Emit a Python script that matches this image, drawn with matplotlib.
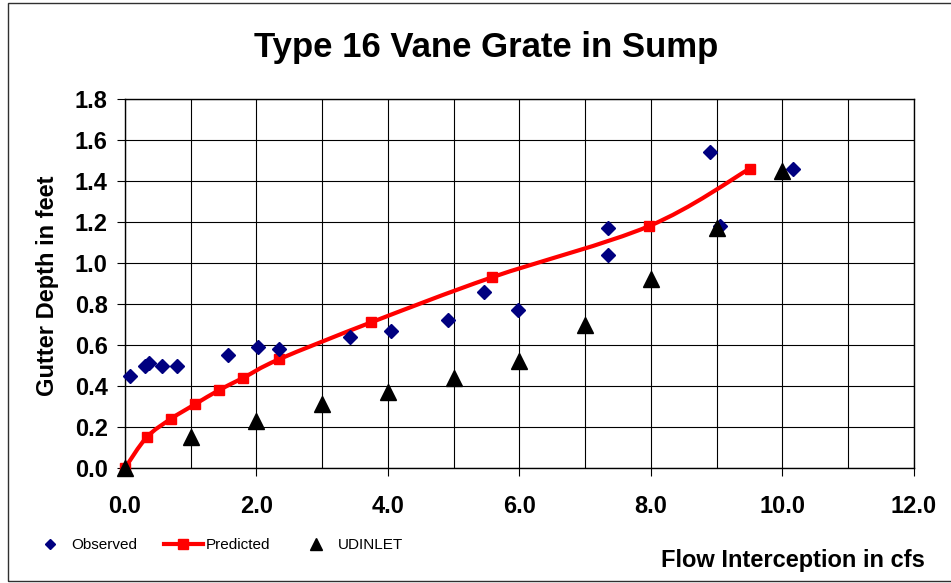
import matplotlib.pyplot as plt
from matplotlib.lines import Line2D
from matplotlib.path import Path
from matplotlib.patches import PathPatch, Rectangle

plt.rcParams['font.family'] = ['Liberation Sans', 'DejaVu Sans']

# observed data (diamonds)
obs_x = [0.07, 0.31, 0.37, 0.56, 0.79, 1.56, 2.03, 2.34, 3.42, 4.04, 4.92,
         5.46, 5.98, 7.34, 7.34, 8.89, 9.05, 10.16]
obs_y = [0.45, 0.50, 0.51, 0.50, 0.50, 0.55, 0.59, 0.58, 0.64, 0.67, 0.72,
         0.86, 0.77, 1.17, 1.04, 1.54, 1.18, 1.46]

# predicted curve
pred_x = [0.0, 0.33, 0.70, 1.06, 1.43, 1.80, 2.34, 3.74, 5.58, 7.97, 9.50]
pred_y = [0.0, 0.15, 0.24, 0.31, 0.38, 0.44, 0.53, 0.71, 0.93, 1.18, 1.46]

# UDINLET
ud_x = [0, 1, 2, 3, 4, 5, 6, 7, 8, 9, 10]
ud_y = [0.0, 0.15, 0.23, 0.31, 0.37, 0.44, 0.52, 0.70, 0.92, 1.17, 1.45]

x_ticks = [0, 2, 4, 6, 8, 10, 12]
y_ticks = [0.0, 0.2, 0.4, 0.6, 0.8, 1.0, 1.2, 1.4, 1.6, 1.8]


def smooth_path(xs, ys):
    # catmull-rom style bezier, like excel's smoothed line
    pts = list(zip(xs, ys))
    verts = [pts[0]]
    codes = [Path.MOVETO]
    n = len(pts)
    for i in range(n - 1):
        p0 = pts[i - 1] if i > 0 else pts[i]
        p1 = pts[i]
        p2 = pts[i + 1]
        p3 = pts[i + 2] if i + 2 < n else pts[i + 1]
        c1 = (p1[0] + (p2[0] - p0[0]) / 6, p1[1] + (p2[1] - p0[1]) / 6)
        c2 = (p2[0] - (p3[0] - p1[0]) / 6, p2[1] - (p3[1] - p1[1]) / 6)
        verts += [c1, c2, p2]
        codes += [Path.CURVE4] * 3
    return Path(verts, codes)


W, H = 951, 583
fig = plt.figure(figsize=(W / 100, H / 100), dpi=100)
ax = fig.add_axes([125 / W, 1 - 468 / H, (914 - 125) / W, (468 - 99) / H])

ax.set_xlim(0, 12)
ax.set_ylim(0, 1.8)
ax.set_xticks(x_ticks)
ax.set_xticks(range(1, 12, 2), minor=True)
ax.set_yticks(y_ticks)
ax.set_xticklabels(['%.1f' % v for v in x_ticks])
ax.set_yticklabels(['%.1f' % v for v in y_ticks])
ax.grid(True, which='both', color='black', linewidth=0.8)
ax.set_axisbelow(True)
ax.tick_params(axis='both', which='major', direction='out', length=5.5,
               width=0.8, labelsize=17)
ax.tick_params(axis='x', which='major', pad=14)
ax.tick_params(axis='y', which='major', pad=7)
ax.tick_params(axis='x', which='minor', length=0)
for lab in ax.get_xticklabels() + ax.get_yticklabels():
    lab.set_fontweight('bold')
for sp in ax.spines.values():
    sp.set_color('black')
    sp.set_linewidth(1)

ax.add_patch(PathPatch(smooth_path(pred_x, pred_y), facecolor='none',
                       edgecolor='#ff0000', linewidth=3, zorder=3))
ax.plot(pred_x, pred_y, linestyle='none', marker='s', markersize=7.2,
        color='#ff0000', zorder=4, clip_on=False)
ax.plot(obs_x, obs_y, linestyle='none', marker='D', markersize=7.5,
        color='#000080', zorder=5, clip_on=False)
ax.plot(ud_x, ud_y, linestyle='none', marker='^', markersize=11,
        color='black', zorder=6, clip_on=False)

fig.text(486 / W, 1 - 47 / H, 'Type 16 Vane Grate in Sump', ha='center',
         va='center', fontsize=25, fontweight='bold')
fig.text(48 / W, 1 - 286 / H, 'Gutter Depth in feet', rotation=90,
         ha='center', va='center', fontsize=17, fontweight='bold')
fig.text(925 / W, 1 - 560 / H, 'Flow Interception in cfs', ha='right',
         va='center', fontsize=17, fontweight='bold')

handles = [
    Line2D([], [], linestyle='none', marker='D', markersize=5, color='#000080'),
    Line2D([], [], color='#ff0000', linewidth=3, marker='s', markersize=7),
    Line2D([], [], linestyle='none', marker='^', markersize=9, color='black'),
]
fig.legend(handles, ['Observed', 'Predicted', 'UDINLET'], ncol=3,
           loc='center left', bbox_to_anchor=(22 / W, 1 - 545 / H),
           frameon=False, fontsize=11, handlelength=2.6, handletextpad=0.15,
           columnspacing=1.7, borderpad=0)

fig.patches.append(Rectangle((8 / W, 1 - 581 / H), 1.1, (581 - 3) / H,
                             transform=fig.transFigure, fill=False,
                             edgecolor='#303030', linewidth=1))

fig.savefig('out.png', dpi=100)
